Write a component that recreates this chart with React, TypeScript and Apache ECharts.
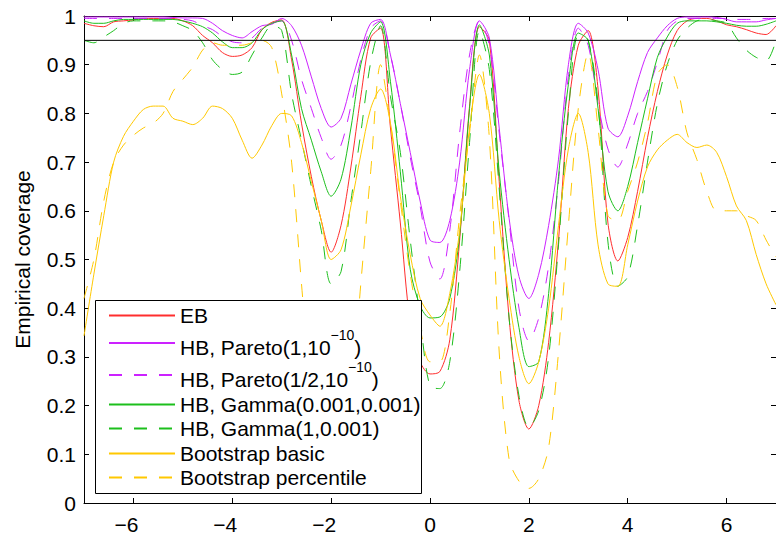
import React, { useEffect, useRef } from 'react';
import * as echarts from 'echarts';

const X = [
  -7, -6.8, -6.6, -6.4, -6.2, -6, -5.8, -5.6, -5.4, -5.2,
  -5, -4.8, -4.6, -4.4, -4.2, -4, -3.8, -3.6, -3.4, -3.2,
  -3, -2.8, -2.6, -2.4, -2.2, -2, -1.8, -1.6, -1.4, -1.2,
  -1, -0.8, -0.6, -0.4, -0.2, 0, 0.2, 0.4, 0.6, 0.8,
  1, 1.2, 1.4, 1.6, 1.8, 2, 2.2, 2.4, 2.6, 2.8,
  3, 3.2, 3.4, 3.6, 3.8, 4, 4.2, 4.4, 4.6, 4.8,
  5, 5.2, 5.4, 5.6, 5.8, 6, 6.2, 6.4, 6.6, 6.8, 7,
];

const EB = [
  0.985, 0.98, 0.978, 0.988, 0.99, 0.992, 0.995, 0.995, 0.995, 0.995,
  0.99, 0.98, 0.96, 0.945, 0.925, 0.917, 0.92, 0.935, 0.972, 0.987,
  0.992, 0.91, 0.78, 0.67, 0.58, 0.515, 0.57, 0.69, 0.835, 0.955,
  0.975, 0.77, 0.575, 0.37, 0.29, 0.265, 0.27, 0.335, 0.54, 0.815,
  0.978, 0.95, 0.66, 0.38, 0.21, 0.152, 0.2, 0.33, 0.54, 0.81,
  0.94, 0.97, 0.85, 0.575, 0.497, 0.545, 0.64, 0.75, 0.845, 0.92,
  0.97, 0.99, 0.995, 0.995, 0.99, 0.982, 0.978, 0.972, 0.965, 0.962, 0.98,
];

const PARETO1 = [
  0.998, 0.998, 0.998, 0.998, 0.998, 0.998, 0.998, 0.998, 0.998, 0.997,
  0.996, 0.996, 0.995, 0.985, 0.97, 0.96, 0.955, 0.968, 0.98, 0.983,
  0.995, 0.98, 0.94, 0.875, 0.81, 0.772, 0.79, 0.86, 0.93, 0.985,
  0.993, 0.92, 0.82, 0.72, 0.62, 0.54, 0.535, 0.58, 0.7, 0.89,
  0.99, 0.955, 0.77, 0.585, 0.465, 0.42, 0.47, 0.57, 0.706, 0.9,
  0.985, 0.965, 0.89, 0.77, 0.752, 0.795, 0.865, 0.925, 0.955, 0.98,
  0.995, 0.998, 0.998, 0.998, 0.997, 0.993, 0.988, 0.988, 0.988, 0.992, 0.995,
];

const PARETO_HALF = [
  0.995, 0.995, 0.995, 0.995, 0.995, 0.995, 0.995, 0.995, 0.995, 0.994,
  0.993, 0.99, 0.98, 0.972, 0.958, 0.947, 0.945, 0.955, 0.975, 0.985,
  0.99, 0.95, 0.87, 0.81, 0.75, 0.706, 0.735, 0.815, 0.91, 0.975,
  0.99, 0.92, 0.82, 0.71, 0.61, 0.495, 0.46, 0.56, 0.76, 0.92,
  0.99, 0.94, 0.76, 0.58, 0.4, 0.333, 0.38, 0.487, 0.66, 0.876,
  0.975, 0.94, 0.82, 0.727, 0.69, 0.737, 0.8, 0.845, 0.905, 0.97,
  0.99, 0.995, 0.995, 0.995, 0.995, 0.995, 0.993, 0.993, 0.993, 0.995, 0.995,
];

const GAMMA_SMALL = [
  0.99, 0.985, 0.985, 0.99, 0.993, 0.993, 0.993, 0.993, 0.993, 0.993,
  0.99, 0.985, 0.978, 0.965, 0.947, 0.935, 0.935, 0.945, 0.972, 0.985,
  0.99, 0.92, 0.81, 0.745, 0.68, 0.63, 0.665, 0.77, 0.9, 0.965,
  0.988, 0.865, 0.68, 0.48, 0.405, 0.38, 0.382, 0.42, 0.55, 0.81,
  0.982, 0.92, 0.68, 0.5, 0.36, 0.28, 0.29, 0.43, 0.67, 0.86,
  0.965, 0.95, 0.81, 0.64, 0.6, 0.65, 0.74, 0.83, 0.915, 0.957,
  0.985, 0.99, 0.99, 0.99, 0.988, 0.985, 0.981, 0.979, 0.979, 0.983, 0.99,
];

const GAMMA_ONE = [
  0.95, 0.945, 0.957, 0.97, 0.985, 0.99, 0.99, 0.99, 0.99, 0.988,
  0.98, 0.97, 0.945, 0.91, 0.89, 0.88, 0.885, 0.92, 0.955, 0.98,
  0.97, 0.84, 0.745, 0.65, 0.56, 0.45, 0.475, 0.62, 0.76, 0.905,
  0.98, 0.835, 0.72, 0.54, 0.38, 0.24, 0.235, 0.29, 0.475, 0.74,
  0.97, 0.89, 0.645, 0.38, 0.22, 0.155, 0.19, 0.3, 0.53, 0.8,
  0.96, 0.95, 0.82, 0.536, 0.445, 0.465, 0.57, 0.7, 0.82, 0.9,
  0.95, 0.975, 0.99, 0.993, 0.99, 0.985, 0.955, 0.93, 0.915, 0.908, 0.95,
];

const BOOT_BASIC = [
  0.343, 0.47, 0.59, 0.7, 0.753, 0.784, 0.808, 0.815, 0.815, 0.79,
  0.784, 0.777, 0.79, 0.815, 0.81, 0.79, 0.745, 0.708, 0.735, 0.775,
  0.8, 0.795, 0.74, 0.66, 0.58, 0.5, 0.52, 0.61, 0.715, 0.81,
  0.85, 0.78, 0.63, 0.51, 0.42, 0.386, 0.363, 0.43, 0.56, 0.77,
  0.88, 0.8, 0.58, 0.42, 0.3, 0.245, 0.29, 0.4, 0.57, 0.727,
  0.8, 0.72, 0.53, 0.45, 0.445, 0.53, 0.62, 0.69, 0.725, 0.745,
  0.757, 0.74, 0.73, 0.735, 0.72, 0.67, 0.61, 0.58, 0.51, 0.45, 0.407,
];

const BOOT_PERC = [
  0.42, 0.5, 0.62, 0.7, 0.735, 0.755, 0.77, 0.78, 0.8, 0.845,
  0.87, 0.895, 0.93, 0.945, 0.94, 0.94, 0.94, 0.945, 0.95, 0.935,
  0.84, 0.7, 0.45, 0.22, 0.1, 0.06, 0.08, 0.2, 0.45, 0.68,
  0.9, 0.78, 0.62, 0.47, 0.36, 0.29, 0.29, 0.39, 0.59, 0.76,
  0.92, 0.75, 0.31, 0.09, 0.045, 0.03, 0.05, 0.114, 0.31, 0.57,
  0.81, 0.924, 0.77, 0.59, 0.58, 0.64, 0.7, 0.78, 0.88, 0.9,
  0.855, 0.76, 0.705, 0.64, 0.6, 0.6, 0.6, 0.59, 0.58, 0.54, 0.505,
];

const REF_LEVEL = 0.95;
const X_TICKS = [-6, -4, -2, 0, 2, 4, 6];

const NAMES = [
  'EB',
  'HB, Pareto(1,10^-10)',
  'HB, Pareto(1/2,10^-10)',
  'HB, Gamma(0.001,0.001)',
  'HB, Gamma(1,0.001)',
  'Bootstrap basic',
  'Bootstrap percentile',
];
const LEGEND_LABELS = [
  '{n|EB}',
  '{m|HB, Pareto(1,10}{sup|−10}{m|)}',
  '{m|HB, Pareto(1/2,10}{sup|−10}{m|)}',
  '{n|HB, Gamma(0.001,0.001)}',
  '{n|HB, Gamma(1,0.001)}',
  '{n|Bootstrap basic}',
  '{n|Bootstrap percentile}',
];
const SERIES_DATA = [EB, PARETO1, PARETO_HALF, GAMMA_SMALL, GAMMA_ONE, BOOT_BASIC, BOOT_PERC];
const COLORS = ['#ff2e2e', '#cc22ff', '#cc22ff', '#1cbf1c', '#1cbf1c', '#ffc800', '#ffc800'];
const DASHED = [false, false, true, false, true, false, true];
const LEGEND_TOPS = [305, 328, 360, 394, 418, 443, 467];

const FONT = '"Liberation Sans", Arial, Helvetica, sans-serif';

export default function App() {
  const ref = useRef<HTMLDivElement>(null);
  useEffect(() => {
    const chart = echarts.init(ref.current!, null, { renderer: 'svg' });
    const series: any[] = NAMES.map((name, i) => ({
      name,
      type: 'line',
      data: X.map((x, k) => [x, SERIES_DATA[i][k]]),
      symbol: 'none',
      showSymbol: false,
      smooth: 0.3,
      lineStyle: { color: COLORS[i], width: 1, type: DASHED[i] ? [13, 12] : 'solid' },
      itemStyle: { color: COLORS[i] },
      z: 2,
    }));
    series.push({
      name: 'ref',
      type: 'line',
      data: [[X[0], REF_LEVEL], [X[X.length - 1], REF_LEVEL]],
      symbol: 'none',
      lineStyle: { color: '#000', width: 1 },
      silent: true,
      z: 3,
    });
    const rich = {
      n: { fontFamily: FONT, fontSize: 21, color: '#000', lineHeight: 22 },
      m: { fontFamily: FONT, fontSize: 21, color: '#000', lineHeight: 30, verticalAlign: 'bottom' },
      sup: { fontFamily: FONT, fontSize: 14, color: '#000', lineHeight: 14, verticalAlign: 'top' },
    };
    const legends = NAMES.map((name, i) => ({
      data: [name],
      left: 108,
      top: LEGEND_TOPS[i],
      orient: 'vertical',
      itemWidth: 66,
      itemHeight: 14,
      padding: 0,
      selectedMode: false,
      z: 10,
      itemStyle: { opacity: 0 },
      formatter: () => LEGEND_LABELS[i],
      textStyle: { fontFamily: FONT, fontSize: 21, color: '#000', rich },
    }));
    const axisCommon = {
      axisLine: { show: true, onZero: false, lineStyle: { color: '#000', width: 1 } },
      splitLine: { show: false },
    };
    chart.setOption({
      animation: false,
      backgroundColor: '#fff',
      grid: { left: 84, right: 0, top: 16, bottom: 29, containLabel: false },
      xAxis: [
        {
          type: 'value', min: -7, max: 7, interval: 1, position: 'bottom',
          ...axisCommon,
          axisTick: { show: true, inside: true, length: 5, customValues: X_TICKS, lineStyle: { color: '#000' } },
          axisLabel: {
            customValues: X_TICKS, margin: 11, color: '#000', fontFamily: FONT, fontSize: 21,
            formatter: (v: number) => (v < 0 ? `{neg|−${-v}}` : `${v}`),
            rich: { neg: { fontFamily: FONT, fontSize: 21, color: '#000', padding: [0, 14, 0, 0] } },
          },
        },
        {
          type: 'value', min: -7, max: 7, interval: 1, position: 'top',
          ...axisCommon,
          axisTick: { show: true, inside: true, length: 5, customValues: X_TICKS, lineStyle: { color: '#000' } },
          axisLabel: { show: false },
        },
      ],
      yAxis: [
        {
          type: 'value', min: 0, max: 1, interval: 0.1, position: 'left',
          ...axisCommon,
          axisTick: { show: true, inside: true, length: 5, lineStyle: { color: '#000' } },
          axisLabel: { margin: 8, color: '#000', fontFamily: FONT, fontSize: 21 },
          name: 'Empirical coverage',
          nameLocation: 'middle',
          nameGap: 51,
          nameTextStyle: { color: '#000', fontFamily: FONT, fontSize: 21 },
        },
        {
          type: 'value', min: 0, max: 1, interval: 0.1, position: 'right',
          ...axisCommon,
          axisTick: { show: true, inside: true, length: 5, lineStyle: { color: '#000' } },
          axisLabel: { show: false },
        },
      ],
      legend: legends,
      graphic: [
        {
          type: 'rect',
          z: 5,
          shape: { x: 95.5, y: 300.5, width: 326, height: 193 },
          style: { fill: '#fff', stroke: '#000', lineWidth: 1 },
        },
      ],
      series,
    });
    return () => chart.dispose();
  }, []);
  return <div ref={ref} style={{ position: 'absolute', left: 0, top: 0, width: 776, height: 535 }} />;
}
